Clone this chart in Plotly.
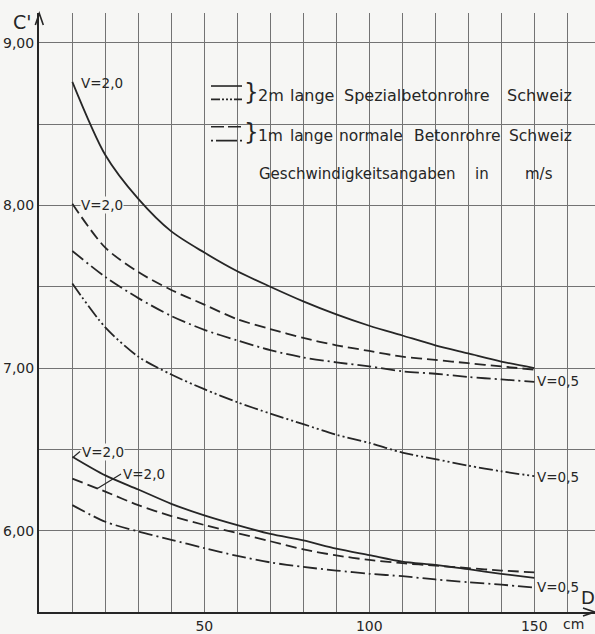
import plotly.graph_objects as go

# ---------------- data ----------------
D = [10, 20, 30, 40, 50, 60, 70, 80, 90, 100, 110, 120, 130, 140, 150]

# upper group
oben_2m_v20 = [8.76, 8.31, 8.04, 7.84, 7.71, 7.595, 7.50, 7.41, 7.33, 7.26, 7.20, 7.14, 7.09, 7.04, 7.00]
oben_1m_v20 = [8.01, 7.74, 7.59, 7.48, 7.39, 7.30, 7.24, 7.185, 7.14, 7.105, 7.07, 7.05, 7.03, 7.01, 6.99]
oben_1m_v05 = [7.72, 7.56, 7.43, 7.32, 7.235, 7.17, 7.11, 7.065, 7.035, 7.01, 6.98, 6.965, 6.945, 6.93, 6.915]
oben_2m_v05 = [7.52, 7.25, 7.07, 6.96, 6.87, 6.79, 6.72, 6.655, 6.59, 6.54, 6.48, 6.44, 6.40, 6.365, 6.335]

# lower group
unten_2m_v20 = [6.455, 6.34, 6.253, 6.165, 6.094, 6.034, 5.98, 5.94, 5.89, 5.85, 5.81, 5.79, 5.763, 5.735, 5.71]
unten_1m_v20 = [6.32, 6.24, 6.157, 6.09, 6.035, 5.985, 5.935, 5.885, 5.848, 5.82, 5.80, 5.785, 5.77, 5.755, 5.744]
unten_v05 = [6.157, 6.055, 5.995, 5.944, 5.893, 5.845, 5.805, 5.777, 5.755, 5.735, 5.72, 5.70, 5.683, 5.668, 5.65]

x_tickvals = [0, 10, 20, 30, 40, 50, 60, 70, 80, 90, 100, 110, 120, 130, 140, 150, 160]
x_ticktext = ["", "", "", "", "", "50", "", "", "", "", "100", "", "", "", "", "150", ""]
y_tickvals = [5.5, 6.0, 6.5, 7.0, 7.5, 8.0, 8.5, 9.0]
y_ticktext = ["", "6,00", "", "7,00", "", "8,00", "", "9,00"]

legend_1 = ["2m", "lange", "Spezialbetonrohre", "Schweiz"]
legend_2 = ["1m", "lange", "normale", "Betonrohre", "Schweiz"]
legend_3 = ["Geschwindigkeitsangaben", "in", "m/s"]

# ---------------- styling ----------------
W_FIG, H_FIG = 595, 634
L, R, T, B = 39, 0, 13, 18
PW, PH = W_FIG - L - R, H_FIG - T - B
BG = "#f6f6f4"
INK = "#262626"
GRID = "#737373"
FONT = "DejaVu Sans"

DASH = "11px,5px"
DASHDOT = "14px,4px,2px,4px"
DASHDOTDOT = "14px,3px,2px,3px,2px,3px"


def fx(px):
    return (px - L) / PW


def fy(py):
    return (T + PH - py) / PH


fig = go.Figure()

series = [
    (oben_2m_v20, "solid"),
    (oben_1m_v20, DASH),
    (oben_1m_v05, DASHDOT),
    (oben_2m_v05, DASHDOTDOT),
    (unten_2m_v20, "solid"),
    (unten_1m_v20, DASH),
    (unten_v05, DASHDOT),
]
for ys, dash in series:
    fig.add_trace(go.Scatter(
        x=D, y=ys, mode="lines",
        line=dict(color=INK, width=1.8, dash=dash, shape="spline", smoothing=0.8),
        showlegend=False, hoverinfo="skip",
    ))

shapes = []
# blank box behind the key (hides gridlines)
shapes.append(dict(type="rect", xref="paper", yref="paper",
                   x0=fx(206), x1=1.0, y0=fy(192), y1=fy(72),
                   fillcolor=BG, line=dict(width=0), layer="between"))


def seg(x0, x1, y, dash):
    return dict(type="line", xref="paper", yref="paper",
                x0=fx(x0), x1=fx(x1), y0=fy(y), y1=fy(y),
                line=dict(color=INK, width=1.6, dash=dash))


shapes.append(seg(211, 242, 86.5, "solid"))
shapes.append(seg(211, 242, 100, "9px,2px,2px,2px,2px,2px,2px,2px"))
shapes.append(seg(211, 242, 127.5, "13px,4px"))
shapes.append(seg(211, 242, 141.5, "2px,3px,21px,3px,2px,10px"))

# leader lines
for (a, b, c, d) in [(73.5, 460, 80, 454.5), (97, 492, 121, 477)]:
    shapes.append(dict(type="line", xref="paper", yref="paper",
                       x0=fx(a), y0=fy(b), x1=fx(c), y1=fy(d),
                       line=dict(color=INK, width=1.2)))

# axis arrowheads
shapes.append(dict(type="path", xref="paper", yref="paper",
                   path=f"M {fx(35.3)},{fy(25)} L {fx(39.3)},{fy(13.5)} L {fx(43.3)},{fy(25)}",
                   line=dict(color=INK, width=1.6)))
shapes.append(dict(type="path", xref="paper", yref="paper",
                   path=f"M {fx(583)},{fy(612)} L {fx(594.5)},{fy(616)} L {fx(583)},{fy(620)}",
                   line=dict(color=INK, width=1.6)))

annotations = []


def txt(s, px, py, size=13, bg=None, anchor="left"):
    a = dict(text=s, xref="paper", yref="paper", x=fx(px), y=fy(py),
             xanchor=anchor, yanchor="middle", showarrow=False,
             font=dict(family=FONT, size=size, color=INK), borderpad=0)
    if bg:
        a["bgcolor"] = bg
    annotations.append(a)


txt("C'", 12, 22, size=19)
txt("D", 580, 601, size=18)
txt("cm", 562, 628, size=14)

txt("V=2,0", 80, 83, size=13.5)
txt("V=2,0", 80, 206.5, size=13.5, bg=BG)
txt("V=2,0", 81, 455, size=13.5, bg=BG)
txt("V=2,0", 122, 477, size=13.5)
txt("V=0,5", 536, 383, size=13.5)
txt("V=0,5", 536, 480, size=13.5)
txt("V=0,5", 536, 591, size=13.5)

for w, px in zip(legend_1, [257, 289, 343, 506]):
    txt(w, px, 96.5, size=16)
for w, px in zip(legend_2, [257, 289, 338, 413, 508]):
    txt(w, px, 136.5, size=15.5)
for w, px in zip(legend_3, [258, 474, 524]):
    txt(w, px, 175, size=15)

txt("}", 243, 93, size=23)
txt("}", 243, 133, size=23)

fig.update_layout(
    width=W_FIG, height=H_FIG,
    margin=dict(l=L, r=R, t=T, b=B, pad=0),
    paper_bgcolor=BG, plot_bgcolor=BG,
    font=dict(family=FONT, size=14, color=INK),
    shapes=shapes, annotations=annotations,
    xaxis=dict(range=[-0.1, 168.4], tickvals=x_tickvals, ticktext=x_ticktext,
               showgrid=True, gridcolor=GRID, gridwidth=1,
               showline=True, linecolor=INK, linewidth=2,
               zeroline=False, ticks="", tickfont=dict(size=14)),
    yaxis=dict(range=[5.5, 9.183], tickvals=y_tickvals, ticktext=y_ticktext,
               showgrid=True, gridcolor=GRID, gridwidth=1,
               showline=True, linecolor=INK, linewidth=2,
               zeroline=False, ticks="", tickfont=dict(size=14)),
)

fig.write_html("out.html")
